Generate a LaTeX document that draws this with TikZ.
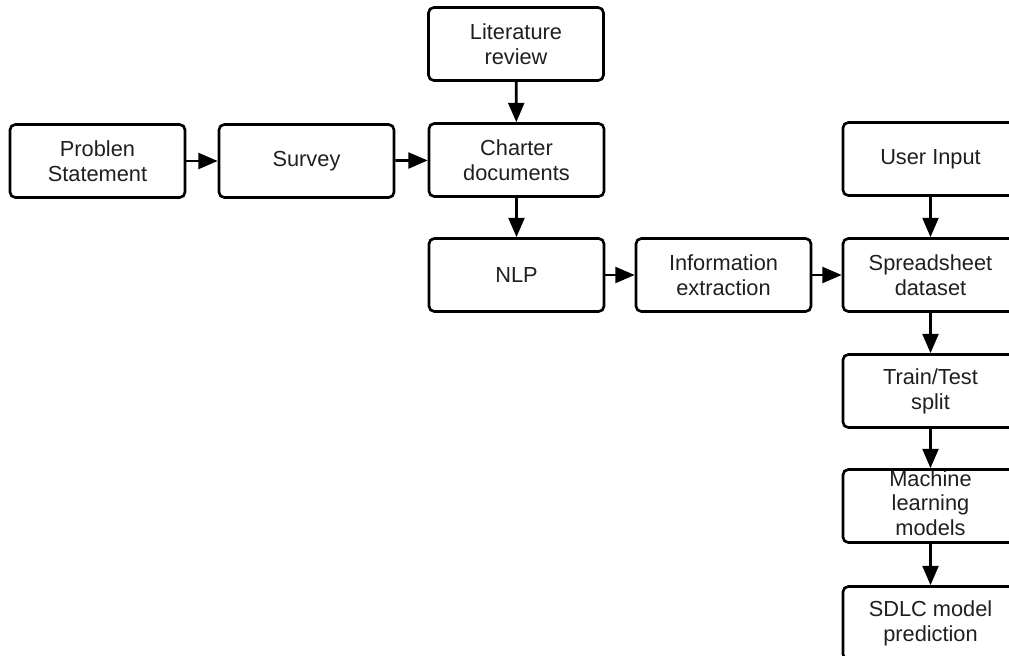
\documentclass[tikz,border=0pt]{standalone}
\usepackage{fontspec}
\setmainfont{Liberation Sans}
\usetikzlibrary{arrows.meta}
\begin{document}
\begin{tikzpicture}[x=0.02cm, y=-0.02cm,
  stepbox/.style={draw, line width=1.5pt, rounded corners=3pt,
    minimum width=3.5cm, minimum height=1.46cm, inner sep=0pt,
    align=center, text=black!88,
    font=\fontsize{12.4}{14.2}\selectfont},
  flow/.style={line width=1.6pt, -{Triangle[length=11pt, width=9pt]}}]
  \useasboundingbox (0,0) rectangle (1009,656);
  \clip (0,0) rectangle (1009,656);

  % process boxes
  \node[stepbox] (lit)     at (516,44)    {Literature\\review};
  \node[stepbox] (prob)    at (97.5,161)  {Problen\\Statement};
  \node[stepbox] (survey)  at (306.5,161) {Survey};
  \node[stepbox] (charter) at (516.5,160) {Charter\\documents};
  \node[stepbox] (user)    at (930.5,159) {User Input};
  \node[stepbox] (nlp)     at (516.5,275) {NLP};
  \node[stepbox] (info)    at (723.5,275) {Information\\extraction};
  \node[stepbox] (spread)  at (930.5,275) {Spreadsheet\\dataset};
  \node[stepbox] (train)   at (930.5,391) {Train/Test\\split};
  \node[stepbox] (ml)      at (930.5,506)
    {\raisebox{-3pt}[0pt][0pt]{\begin{tabular}{@{}c@{}}Machine\\learning\\models\end{tabular}}};
  \node[stepbox] (sdlc)    at (930.5,623) {SDLC model\\prediction};

  % connectors
  \draw[flow] (prob) -- (survey);
  \draw[flow] (survey) -- (charter);
  \draw[flow] (lit) -- (charter);
  \draw[flow] (charter) -- (nlp);
  \draw[flow] (nlp) -- (info);
  \draw[flow] (info) -- (spread);
  \draw[flow] (user) -- (spread);
  \draw[flow] (spread) -- (train);
  \draw[flow] (train) -- (ml);
  \draw[flow] (ml) -- (sdlc);
\end{tikzpicture}
\end{document}
